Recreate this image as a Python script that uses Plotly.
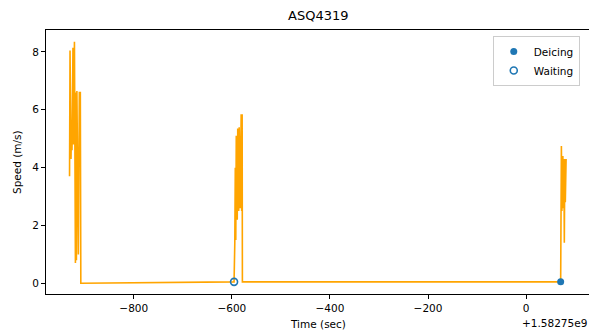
import plotly.graph_objects as go

# ---- data (time offsets in seconds from BASE) ----
BASE_LABEL = "+1.58275e9"
title_text = "ASQ4319"

speed_time = [-931, -930, -928, -927, -926, -924, -923, -921, -919, -918,
              -917, -916, -913, -911, -909, -908,
              -595.5, -594, -593, -592, -591, -589, -588, -586, -585, -583,
              -581, -580, -579, -578.5,
              70.5, 72, 73, 75, 76, 77, 78, 79, 80, 81.6]
speed_vals = [3.7, 8.05, 4.3, 5.5, 4.6, 8.15, 4.8, 8.35, 0.7, 6.6,
              0.8, 6.65, 1.0, 6.6, 6.6, 0.0,
              0.05, 1.4, 4.0, 1.5, 5.1, 2.2, 5.35, 2.5, 5.4, 2.6,
              5.85, 2.5, 5.85, 0.05,
              0.05, 4.75, 2.5, 4.4, 2.6, 4.3, 1.4, 4.3, 2.8, 4.3]

deicing_time = [70.5]
deicing_vals = [0.05]
waiting_time = [-595.5]
waiting_vals = [0.05]

x_ticks = [-800, -600, -400, -200, 0]
y_ticks = [0, 2, 4, 6, 8]

ORANGE = "#FFA500"
BLUE = "#1f77b4"
FONT = "DejaVu Sans"

fig = go.Figure()
fig.add_trace(go.Scatter(x=speed_time, y=speed_vals, mode="lines",
                         line=dict(color=ORANGE, width=1.6), showlegend=False))
fig.add_trace(go.Scatter(x=deicing_time, y=deicing_vals, mode="markers", name="Deicing",
                         marker=dict(symbol="circle", size=7, color=BLUE)))
fig.add_trace(go.Scatter(x=waiting_time, y=waiting_vals, mode="markers", name="Waiting",
                         marker=dict(symbol="circle-open", size=7, color=BLUE,
                                     line=dict(width=1.6, color=BLUE))))

fig.update_layout(
    width=589, height=335,
    margin=dict(l=46, r=0, t=30, b=41),
    plot_bgcolor="white", paper_bgcolor="white",
    font=dict(family=FONT, size=10.5, color="black"),
    legend=dict(x=0.983, y=0.977, xanchor="right", yanchor="top",
                bordercolor="#cccccc", borderwidth=1, bgcolor="rgba(255,255,255,0.8)",
                font=dict(size=10.5, family=FONT), tracegroupgap=0),
    xaxis=dict(range=[-979, 128.3], tickvals=x_ticks,
               ticktext=[("\u2212" + str(abs(v))) if v < 0 else str(v) for v in x_ticks],
               showgrid=False, zeroline=False, showline=True, linecolor="black",
               linewidth=1, mirror=True, ticks="outside", ticklen=4, tickwidth=1,
               tickcolor="black", tickfont=dict(size=10.5, family=FONT)),
    yaxis=dict(range=[-0.37, 8.76], tickvals=y_ticks,
               showgrid=False, zeroline=False, showline=True, linecolor="black",
               linewidth=1, mirror=False, ticks="outside", ticklen=4, tickwidth=1,
               tickcolor="black", tickfont=dict(size=10.5, family=FONT)),
    annotations=[
        dict(text=title_text, xref="paper", yref="paper", x=0.501, y=1.0,
             yshift=15, showarrow=False, font=dict(size=13, family=FONT),
             xanchor="center", yanchor="middle"),
        dict(text="Time (sec)", xref="paper", yref="paper", x=0.501, y=0,
             yshift=-30, showarrow=False, font=dict(size=10.5, family=FONT),
             xanchor="center", yanchor="middle"),
        dict(text=BASE_LABEL, xref="paper", yref="paper", x=1.0, y=0,
             yshift=-29, showarrow=False, font=dict(size=10.5, family=FONT),
             xanchor="right", yanchor="middle"),
        dict(text="Speed (m/s)", xref="paper", yref="paper", x=0, y=0.5,
             xshift=-29, showarrow=False, textangle=-90,
             font=dict(size=10.5, family=FONT), xanchor="center", yanchor="middle"),
    ],
)

fig.write_html("out.html")
